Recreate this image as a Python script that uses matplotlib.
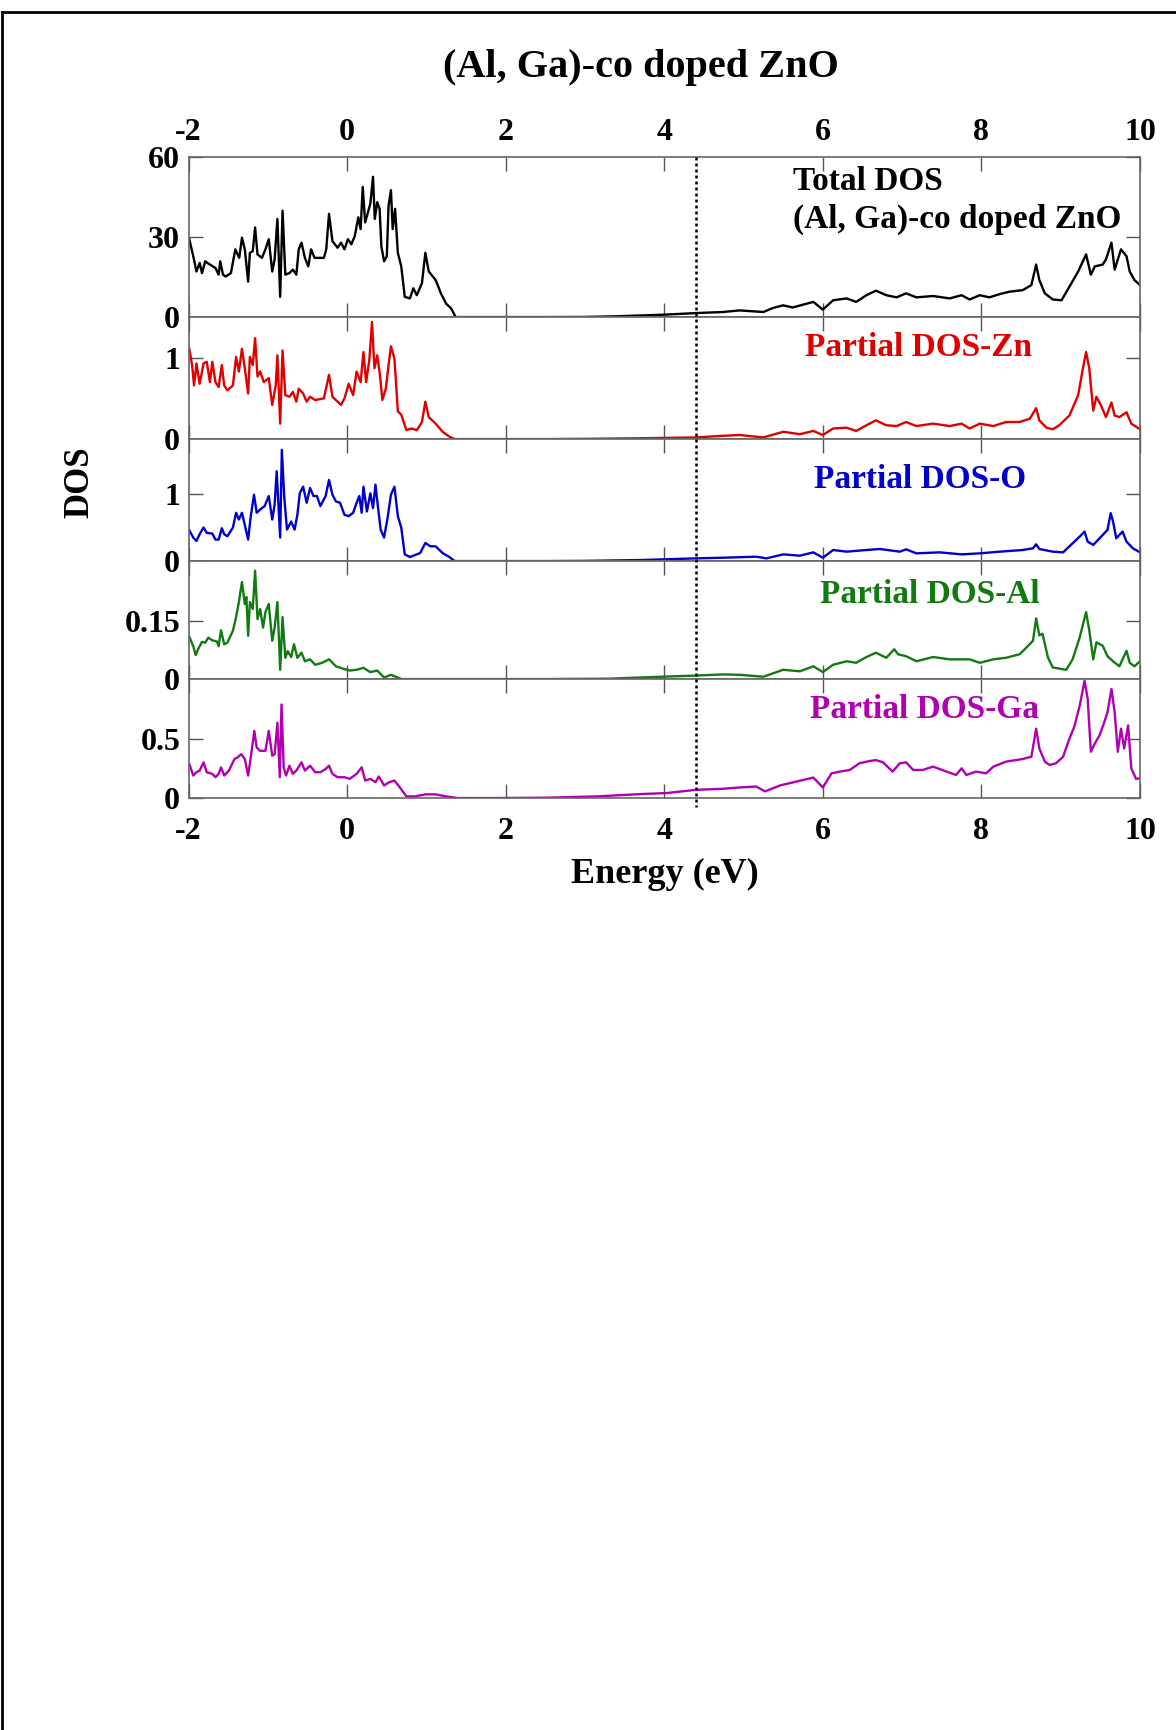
import matplotlib
matplotlib.use("Agg")
import matplotlib.pyplot as plt
from matplotlib.lines import Line2D
import matplotlib.transforms as mtransforms

plt.rcParams['font.family'] = ['Liberation Serif', 'DejaVu Serif']
plt.rcParams['font.weight'] = 'bold'

# energy (eV) and DOS values, one pair of lists per panel
e_total = [-1.99, -1.94, -1.90, -1.86, -1.83, -1.79, -1.73, -1.66, -1.62, -1.60, -1.565, -1.53,
           -1.465, -1.41, -1.36, -1.326, -1.29, -1.248, -1.226, -1.19, -1.16, -1.13, -1.074,
           -1.03, -0.988, -0.944, -0.914, -0.879, -0.844, -0.814, -0.779, -0.727, -0.684,
           -0.64, -0.61, -0.575, -0.532, -0.489, -0.454, -0.41, -0.358, -0.293, -0.263,
           -0.228, -0.185, -0.12, -0.076, -0.033, 0.01, 0.054, 0.097, 0.141, 0.171, 0.197,
           0.228, 0.258, 0.293, 0.327, 0.349, 0.38, 0.41, 0.432, 0.466, 0.501, 0.523, 0.553,
           0.575, 0.605, 0.64, 0.683, 0.727, 0.792, 0.835, 0.879, 0.944, 0.987, 1.03, 1.117,
           1.183, 1.248, 1.313, 1.369, 1.6, 2.5, 3.0, 3.4, 3.69, 4.0, 4.40, 4.74, 4.95, 5.25,
           5.37, 5.50, 5.62, 5.88, 6.0, 6.13, 6.30, 6.42, 6.55, 6.67, 6.80, 6.93, 7.05, 7.18,
           7.39, 7.60, 7.75, 7.85, 7.98, 8.10, 8.23, 8.35, 8.52, 8.63, 8.69, 8.73, 8.80, 8.90,
           9.01, 9.11, 9.22, 9.32, 9.38, 9.43, 9.53, 9.57, 9.64, 9.68, 9.76, 9.83, 9.87, 9.93,
           10.0]
dos_total = [29.2, 22.8, 17.1, 20.3, 16.5, 20.9, 19.7, 18.4, 15.9, 20.9, 15.9, 15.2,
             16.5, 25.4, 22.2, 29.8, 25.4, 13.3, 24.1, 24.7, 33.6, 23.5, 22.2,
             25.4, 29.2, 17.1, 21.6, 36.8, 7.6, 39.9, 15.9, 16.5, 17.8,
             15.9, 25.4, 27.9, 22.2, 19.0, 25.4, 22.2, 22.2, 22.2, 25.4,
             38.7, 28.5, 26.0, 27.9, 25.4, 29.2, 27.3, 30.4, 37.4, 33.0, 48.8,
             35.5, 38.7, 42.5, 52.6, 36.8, 43.1, 40.6, 26.6, 20.9, 22.8, 41.8, 47.6,
             33.0, 40.6, 24.1, 19.0, 7.6, 7.0, 10.8, 8.2, 12.7, 24.1, 17.1, 13.9,
             8.9, 5.1, 3.2, 0.0, 0.0, 0.0, 0.05, 0.3, 0.6, 0.9, 1.5, 1.9, 2.5, 1.9,
             3.4, 4.4, 3.6, 5.7, 2.8, 6.3, 7.0, 5.7, 8.2, 9.9, 8.2, 7.4, 8.9, 7.4,
             7.9, 7.0, 8.2, 6.6, 8.2, 7.4, 8.6, 9.5, 10.1, 12.0, 19.7, 13.9, 8.9, 6.6,
             6.3, 11.4, 17.1, 23.5, 15.9, 19.0, 19.7, 21.6, 27.9, 17.8, 25.4, 22.8, 17.1, 13.9,
             12.0]

e_zn = [-1.99, -1.955, -1.93, -1.90, -1.86, -1.81, -1.77, -1.73, -1.70, -1.66, -1.62, -1.58,
        -1.55, -1.51, -1.44, -1.40, -1.365, -1.326, -1.29, -1.248, -1.226, -1.19, -1.16, -1.13,
        -1.096, -1.05, -0.988, -0.944, -0.90, -0.879, -0.844, -0.814, -0.779, -0.727, -0.684,
        -0.64, -0.61, -0.554, -0.51, -0.467, -0.402, -0.293, -0.228, -0.185, -0.12, -0.076,
        -0.033, 0.02, 0.076, 0.12, 0.171, 0.206, 0.24, 0.28, 0.314, 0.345, 0.38, 0.414, 0.445,
        0.488, 0.523, 0.553, 0.597, 0.64, 0.683, 0.748, 0.814, 0.879, 0.944, 0.987, 1.03,
        1.117, 1.204, 1.29, 1.356, 2.5, 3.0, 3.69, 4.40, 4.74, 4.95, 5.25, 5.50, 5.71, 5.88,
        6.0, 6.13, 6.30, 6.42, 6.55, 6.67, 6.80, 6.93, 7.05, 7.18, 7.39, 7.60, 7.75, 7.85,
        7.98, 8.15, 8.31, 8.48, 8.61, 8.69, 8.73, 8.82, 8.90, 8.98, 9.11, 9.22, 9.28, 9.32,
        9.36, 9.41, 9.45, 9.51, 9.57, 9.64, 9.68, 9.74, 9.83, 9.89, 10.0]
dos_zn = [1.11, 0.91, 0.66, 0.93, 0.68, 0.93, 0.95, 0.70, 0.95, 0.70, 0.64, 0.91,
          0.66, 0.60, 0.66, 1.01, 0.83, 1.11, 0.87, 0.56, 1.01, 0.91, 1.24, 0.77,
          0.83, 0.70, 0.75, 0.42, 0.66, 1.03, 0.19, 1.09, 0.54, 0.52, 0.58,
          0.46, 0.62, 0.56, 0.46, 0.52, 0.48, 0.50, 0.79, 0.52, 0.46, 0.42,
          0.50, 0.68, 0.54, 0.83, 0.70, 1.07, 0.70, 0.97, 1.44, 0.87, 1.03, 0.79, 0.48,
          0.62, 0.91, 1.14, 0.99, 0.34, 0.30, 0.11, 0.13, 0.11, 0.21, 0.46, 0.27,
          0.19, 0.09, 0.03, 0.0, 0.0, 0.003, 0.01, 0.02, 0.04, 0.05, 0.02, 0.09, 0.06, 0.10,
          0.05, 0.13, 0.14, 0.10, 0.17, 0.23, 0.17, 0.16, 0.21, 0.16, 0.19, 0.16, 0.19, 0.13,
          0.19, 0.16, 0.21, 0.21, 0.25, 0.38, 0.23, 0.14, 0.12, 0.17, 0.29, 0.54, 0.87, 1.07,
          0.87, 0.35, 0.52, 0.41, 0.27, 0.45, 0.29, 0.27, 0.33, 0.19, 0.12]

e_o = [-1.99, -1.94, -1.90, -1.86, -1.81, -1.77, -1.70, -1.66, -1.62, -1.58, -1.55, -1.51,
       -1.44, -1.40, -1.365, -1.326, -1.29, -1.248, -1.218, -1.174, -1.14, -1.096, -1.04,
       -0.988, -0.944, -0.914, -0.888, -0.844, -0.823, -0.792, -0.758, -0.705, -0.662,
       -0.627, -0.597, -0.554, -0.51, -0.467, -0.424, -0.38, -0.337, -0.271, -0.228,
       -0.185, -0.141, -0.089, -0.033, 0.02, 0.076, 0.12, 0.154, 0.184, 0.206, 0.25,
       0.293, 0.327, 0.358, 0.388, 0.423, 0.466, 0.51, 0.553, 0.597, 0.64, 0.683, 0.727,
       0.792, 0.857, 0.922, 0.987, 1.05, 1.117, 1.204, 1.29, 1.356, 2.5, 3.0, 3.69, 4.40,
       4.74, 5.16, 5.29, 5.50, 5.71, 5.88, 6.0, 6.13, 6.30, 6.55, 6.72, 6.97, 7.05, 7.18,
       7.47, 7.75, 7.98, 8.23, 8.52, 8.65, 8.69, 8.73, 8.90, 9.03, 9.15, 9.24, 9.30, 9.34,
       9.41, 9.53, 9.59, 9.63, 9.66, 9.70, 9.74, 9.78, 9.83, 9.91, 10.0]
dos_o = [0.46, 0.35, 0.30, 0.40, 0.50, 0.42, 0.41, 0.32, 0.32, 0.49, 0.40, 0.37,
         0.50, 0.72, 0.62, 0.72, 0.54, 0.32, 0.64, 0.99, 0.72, 0.77, 0.82,
         0.97, 0.62, 0.84, 1.34, 0.35, 1.66, 0.94, 0.47, 0.59, 0.47,
         0.69, 1.01, 1.11, 0.87, 1.09, 0.97, 0.97, 0.82, 0.97, 1.21,
         0.99, 0.89, 0.87, 0.69, 0.67, 0.72, 0.87, 0.97, 0.72, 1.11, 0.74,
         1.01, 0.79, 1.14, 0.82, 0.47, 0.35, 0.64, 0.99, 1.11, 0.67, 0.50, 0.10,
         0.06, 0.09, 0.12, 0.27, 0.22, 0.22, 0.12, 0.06, 0.0, 0.0, 0.003, 0.015, 0.04,
         0.05, 0.065, 0.04, 0.10, 0.08, 0.13, 0.05, 0.165, 0.14, 0.165, 0.18, 0.14, 0.175, 0.115,
         0.13, 0.10, 0.115, 0.14, 0.165, 0.19, 0.25, 0.18, 0.14, 0.13, 0.265, 0.365, 0.44, 0.29,
         0.24, 0.39, 0.465, 0.715, 0.59, 0.34, 0.39, 0.44, 0.29, 0.19, 0.13]

e_al = [-1.99, -1.94, -1.91, -1.87, -1.83, -1.79, -1.75, -1.70, -1.64, -1.62, -1.59, -1.55,
        -1.51, -1.44, -1.40, -1.365, -1.326, -1.29, -1.27, -1.248, -1.226, -1.19, -1.16,
        -1.13, -1.096, -1.06, -1.03, -0.988, -0.944, -0.914, -0.879, -0.844, -0.814,
        -0.779, -0.749, -0.705, -0.67, -0.627, -0.575, -0.532, -0.467, -0.402, -0.315,
        -0.228, -0.141, -0.055, 0.032, 0.12, 0.206, 0.293, 0.38, 0.466, 0.553, 0.64, 0.683,
        2.5, 3.3, 3.69, 4.40, 4.74, 4.95, 5.25, 5.50, 5.71, 5.88, 6.0, 6.13, 6.30, 6.42,
        6.55, 6.67, 6.80, 6.90, 6.95, 7.05, 7.18, 7.39, 7.60, 7.85, 7.98, 8.15, 8.31, 8.48,
        8.59, 8.65, 8.69, 8.73, 8.77, 8.84, 8.90, 8.98, 9.07, 9.15, 9.24, 9.32, 9.36, 9.41,
        9.45, 9.53, 9.59, 9.66, 9.74, 9.83, 9.87, 9.93, 10.0]
dos_al = [0.109, 0.085, 0.062, 0.081, 0.096, 0.094, 0.107, 0.100, 0.097, 0.085, 0.126, 0.090,
          0.094, 0.125, 0.160, 0.199, 0.251, 0.194, 0.212, 0.112, 0.199, 0.181, 0.280,
          0.155, 0.181, 0.133, 0.173, 0.194, 0.099, 0.133, 0.199, 0.024, 0.160,
          0.055, 0.072, 0.057, 0.090, 0.055, 0.068, 0.046, 0.051, 0.037, 0.042,
          0.051, 0.033, 0.027, 0.022, 0.024, 0.029, 0.018, 0.022, 0.004, 0.011, 0.004, 0.0,
          0.0, 0.001, 0.004, 0.009, 0.012, 0.011, 0.006, 0.024, 0.020, 0.033, 0.018, 0.037, 0.046, 0.042,
          0.057, 0.068, 0.055, 0.077, 0.064, 0.059, 0.046, 0.057, 0.051, 0.051, 0.042, 0.051, 0.055, 0.064,
          0.086, 0.099, 0.157, 0.113, 0.117, 0.055, 0.030, 0.027, 0.024, 0.051, 0.108, 0.173, 0.126, 0.051,
          0.095, 0.086, 0.059, 0.046, 0.033, 0.073, 0.042, 0.033, 0.046]

e_ga = [-1.99, -1.94, -1.90, -1.86, -1.81, -1.77, -1.70, -1.66, -1.62, -1.59, -1.55, -1.49,
        -1.42, -1.38, -1.335, -1.29, -1.248, -1.218, -1.17, -1.14, -1.096, -1.03, -0.988,
        -0.944, -0.914, -0.879, -0.849, -0.827, -0.80, -0.77, -0.727, -0.684, -0.64, -0.575,
        -0.532, -0.467, -0.402, -0.337, -0.271, -0.228, -0.185, -0.12, -0.033, 0.032, 0.12,
        0.184, 0.228, 0.293, 0.358, 0.40, 0.466, 0.531, 0.597, 0.662, 0.748, 0.857, 0.987,
        1.117, 1.248, 1.40, 1.855, 2.5, 3.16, 3.69, 4.03, 4.40, 4.74, 4.95, 5.16, 5.27, 5.46,
        5.67, 5.88, 6.0, 6.11, 6.21, 6.34, 6.46, 6.59, 6.67, 6.76, 6.88, 6.97, 7.05, 7.14,
        7.26, 7.39, 7.56, 7.68, 7.75, 7.81, 7.93, 8.06, 8.15, 8.31, 8.52, 8.63, 8.69, 8.73,
        8.80, 8.86, 8.94, 9.03, 9.11, 9.17, 9.24, 9.30, 9.34, 9.38, 9.43, 9.49, 9.55, 9.59,
        9.64, 9.68, 9.72, 9.76, 9.80, 9.85, 9.89, 9.95, 10.0]
dos_ga = [0.286, 0.189, 0.217, 0.231, 0.300, 0.217, 0.203, 0.175, 0.203, 0.258, 0.189, 0.231,
          0.328, 0.342, 0.369, 0.328, 0.189, 0.328, 0.564, 0.425, 0.397, 0.397, 0.564,
          0.356, 0.369, 0.633, 0.175, 0.786, 0.258, 0.189, 0.272, 0.203, 0.231, 0.300,
          0.231, 0.272, 0.217, 0.217, 0.244, 0.272, 0.203, 0.175, 0.175, 0.161, 0.203,
          0.258, 0.147, 0.161, 0.133, 0.181, 0.106, 0.133, 0.147, 0.092, 0.014, 0.014, 0.031,
          0.031, 0.014, 0.0, 0.0, 0.003, 0.014, 0.033, 0.042, 0.069, 0.078, 0.089, 0.097, 0.056, 0.106,
          0.139, 0.172, 0.089, 0.208, 0.222, 0.236, 0.292, 0.311, 0.319, 0.300, 0.222, 0.292, 0.300, 0.236,
          0.236, 0.264, 0.222, 0.194, 0.250, 0.194, 0.222, 0.208, 0.264, 0.306, 0.328, 0.347, 0.583, 0.417,
          0.306, 0.278, 0.292, 0.347, 0.50, 0.597, 0.778, 0.986, 0.833, 0.389, 0.458, 0.528, 0.639, 0.722,
          0.917, 0.722, 0.389, 0.583, 0.417, 0.611, 0.25, 0.161, 0.167]

panels = [
    (e_total, dos_total, 'black', (0, 60), [0, 30, 60], ['0', '30', '60']),
    (e_zn, dos_zn, '#e00000', (0, 1.5), [0, 1], ['0', '1']),
    (e_o, dos_o, '#0000cc', (0, 1.82), [0, 1], ['0', '1']),
    (e_al, dos_al, '#117a11', (0, 0.305), [0, 0.15], ['0', '0.15']),
    (e_ga, dos_ga, '#b000b0', (0, 1.0), [0, 0.5], ['0', '0.5']),
]
labels = ['Partial DOS-Zn', 'Partial DOS-O', 'Partial DOS-Al', 'Partial DOS-Ga']
label_pos = [(0.767, 0.75), (0.769, 0.665), (0.779, 0.72), (0.773, 0.74)]
e_fermi = 4.4
xticks = [-2, 0, 2, 4, 6, 8, 10]

fig = plt.figure(figsize=(11.76, 17.30), dpi=100)
gs = fig.add_gridspec(5, 1, left=0.1603, right=0.9694, top=0.9092, bottom=0.5387,
                      hspace=0, height_ratios=[160, 122, 122, 118, 119])
axes = [fig.add_subplot(gs[i]) for i in range(5)]

for i, ax in enumerate(axes):
    e, d, col, ylim, yt, ytl = panels[i]
    ax.plot(e, d, color=col, lw=1.7)
    ax.set_xlim(-2, 10)
    ax.set_ylim(*ylim)
    ax.set_yticks(yt)
    ax.set_yticklabels(ytl)
    ax.set_xticks(xticks)
    ax.tick_params(direction='in', top=True, right=True, length=10, width=1,
                   color='#555555', labelsize=23, pad=6)
    ax.tick_params(axis='x', labelbottom=(i == 4), labeltop=(i == 0))
    if i == 0:
        ax.tick_params(axis='x', pad=7.5)
    if i == 4:
        ax.tick_params(axis='x', pad=14)
    for s in ax.spines.values():
        s.set_color('#666666')
        s.set_linewidth(1.2)
    if i == 0:
        ax.set_xticklabels([str(t) for t in xticks])
        ax.text(0.635, 0.85, 'Total DOS', transform=ax.transAxes, fontsize=24,
                fontweight='bold', ha='left', va='center', color='black')
        ax.text(0.635, 0.61, '(Al, Ga)-co doped ZnO', transform=ax.transAxes, fontsize=24,
                fontweight='bold', ha='left', va='center', color='black')
    else:
        x, y = label_pos[i - 1]
        ax.text(x, y, labels[i - 1], transform=ax.transAxes, fontsize=24,
                fontweight='bold', ha='center', va='center', color=col)

axes[4].set_xticklabels([str(t) for t in xticks])

# dotted vertical line across all panels
trans = mtransforms.blended_transform_factory(axes[0].transData, fig.transFigure)
fig.add_artist(Line2D([e_fermi, e_fermi], [0.9092, 0.5335], transform=trans,
                      color='black', lw=1.8, ls=(0, (1.2, 1.2))))

fig.text(0.545, 0.9610, '(Al, Ga)-co doped ZnO', fontsize=29, fontweight='bold',
         ha='center', va='center')
fig.text(0.5655, 0.4945, 'Energy (eV)', fontsize=26, fontweight='bold',
         ha='center', va='center')
fig.text(0.068, 0.7214, 'DOS', fontsize=25, fontweight='bold', rotation=90,
         ha='center', va='center')

# frame on the left and top of the page
fig.add_artist(Line2D([0.002, 0.002], [0.0, 0.9933], transform=fig.transFigure,
                      color='black', lw=2))
fig.add_artist(Line2D([0.002, 1.0], [0.9933, 0.9933], transform=fig.transFigure,
                      color='black', lw=2))

fig.savefig('out.png', dpi=100)
